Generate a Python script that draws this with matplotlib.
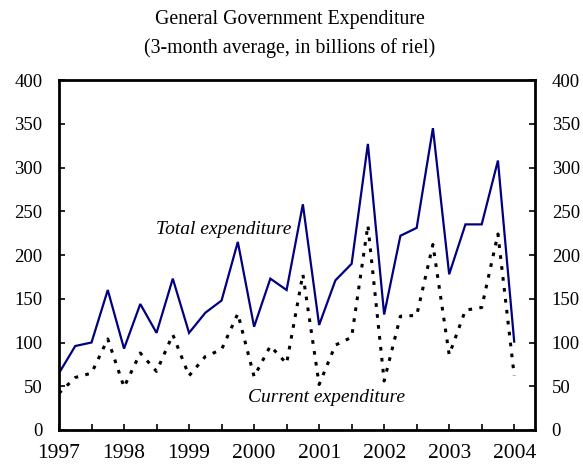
import matplotlib
matplotlib.use("Agg")
import matplotlib.pyplot as plt
from matplotlib.ticker import MultipleLocator

# Quarterly observations, 1997Q1 .. 2004Q1
years = [1997 + q / 4 for q in range(29)]
total_expenditure = [65, 96, 100, 160, 93, 144, 111, 173, 111, 134, 148, 215,
                     118, 173, 160, 258, 120, 171, 190, 327, 132, 222, 231, 345,
                     178, 235, 235, 308, 101]
current_expenditure = [42, 60, 65, 104, 49, 88, 67, 109, 62, 84, 92, 133,
                       61, 96, 76, 178, 52, 97, 106, 234, 56, 130, 131, 212,
                       86, 137, 140, 224, 62]
year_labels = ["1997", "1998", "1999", "2000", "2001", "2002", "2003", "2004"]
y_ticks = [0, 50, 100, 150, 200, 250, 300, 350, 400]

plt.rcParams['font.family'] = ['Liberation Serif', 'DejaVu Serif']

fig = plt.figure(figsize=(5.83, 4.68), dpi=100)
ax = fig.add_axes([0.1012, 0.0812, 0.8165, 0.7478])

ax.plot(years, total_expenditure, color='#000080', lw=1.6, solid_joinstyle='miter')
ax.plot(years, current_expenditure, color='black', lw=2.2,
        linestyle=(0, (1.2, 2.4)), dash_capstyle='butt')

ax.set_xlim(1997, 2004.32)
ax.set_ylim(0, 400)

ax.set_xticks([1997 + i for i in range(len(year_labels))])
ax.set_xticklabels(year_labels, fontsize=15.5)
ax.xaxis.set_minor_locator(MultipleLocator(0.5))
ax.set_yticks(y_ticks)
ax.set_yticklabels([str(v) for v in y_ticks], fontsize=13.5)

ax.tick_params(axis='x', which='both', direction='in', top=False, length=4, width=1.2, pad=10)
ax.tick_params(axis='y', which='both', direction='in', left=True, right=True,
               labelleft=True, labelright=True, length=4, width=1.2, pad=12)

for s in ax.spines.values():
    s.set_linewidth(2)

ax.text(2000.57, 229, "Total expenditure", style='italic', fontsize=14,
        ha='right', va='center')
ax.text(2001.11, 37, "Current expenditure", style='italic', fontsize=14,
        ha='center', va='center')

fig.text(0.497, 0.958, "General Government Expenditure", ha='center', va='center', fontsize=14.3)
fig.text(0.497, 0.897, "(3-month average, in billions of riel)", ha='center', va='center', fontsize=14.3)

fig.savefig("out.png", dpi=100)
